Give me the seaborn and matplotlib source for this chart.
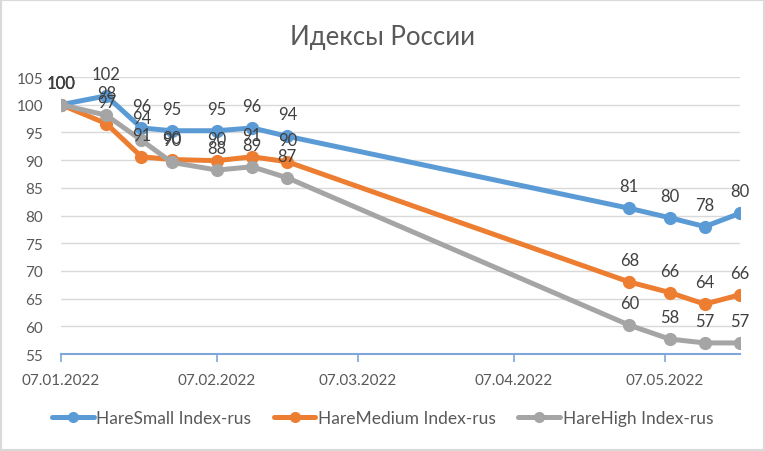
import matplotlib
matplotlib.use("Agg")
import matplotlib.pyplot as plt
import matplotlib.dates as mdates
from matplotlib.lines import Line2D
from matplotlib.patches import Rectangle
import seaborn as sns
import pandas as pd

title = "Идексы России"
dates = ["2022-01-07", "2022-01-16", "2022-01-23", "2022-01-29", "2022-02-07",
         "2022-02-14", "2022-02-21", "2022-04-30", "2022-05-08", "2022-05-15", "2022-05-22"]
series_names = ["HareSmall Index-rus", "HareMedium Index-rus", "HareHigh Index-rus"]
small = [100, 101.6, 95.8, 95.3, 95.3, 95.8, 94.3, 81.3, 79.6, 78.0, 80.4]
medium = [100, 96.6, 90.6, 90.1, 89.9, 90.6, 89.7, 68.0, 66.1, 64.0, 65.7]
high = [100, 98.1, 93.6, 89.6, 88.2, 88.8, 86.8, 60.2, 57.7, 57.0, 57.0]
tick_dates = ["2022-01-07", "2022-02-07", "2022-03-07", "2022-04-07", "2022-05-07"]
y_ticks = [55, 60, 65, 70, 75, 80, 85, 90, 95, 100, 105]
colors = ["#5B9BD5", "#ED7D31", "#A5A5A5"]

sns.set_theme(style="white")
plt.rcParams["font.family"] = ["Lato", "DejaVu Sans"]

frames = []
for name, vals in zip(series_names, [small, medium, high]):
    frames.append(pd.DataFrame({"date": pd.to_datetime(dates), "value": vals, "series": name}))
df = pd.concat(frames, ignore_index=True)

fig = plt.figure(figsize=(7.65, 4.52), dpi=100)
ax = fig.add_axes([61 / 765, 1 - 355 / 452, (740 - 61) / 765, (355 - 78) / 452])

for grid_y in y_ticks:
    ax.axhline(grid_y, color="#D9D9D9", lw=1, zorder=0)

sns.lineplot(data=df, x="date", y="value", hue="series", hue_order=series_names,
             palette=colors, marker="o", markersize=9.5, linewidth=3.6,
             markeredgewidth=0, legend=False, ax=ax, zorder=3)

for name, vals, c in zip(series_names, [small, medium, high], colors):
    for d, v in zip(pd.to_datetime(dates), vals):
        ax.annotate(f"{round(v)}", (d, v), xytext=(0, 10), textcoords="offset points",
                    ha="center", va="bottom", fontsize=12, color="#404040", zorder=10)

ax.set_xlim(pd.Timestamp(dates[0]), pd.Timestamp(dates[-1]))
ax.set_ylim(55, 105)
ax.set_yticks(y_ticks)
ax.set_xticks(pd.to_datetime(tick_dates))
ax.xaxis.set_major_formatter(mdates.DateFormatter("%d.%m.%Y"))
ax.set_xlabel("")
ax.set_ylabel("")
for s in ["top", "right", "left"]:
    ax.spines[s].set_visible(False)
ax.spines["bottom"].set_color("#7EA6D8")
ax.spines["bottom"].set_linewidth(1.5)
ax.spines["bottom"].set_zorder(1)
ax.tick_params(axis="x", colors="#7EA6D8", labelcolor="#595959", length=6, width=1.2,
               direction="out", bottom=True, pad=8, labelsize=11)
ax.tick_params(axis="y", length=0, labelcolor="#595959", pad=13, labelsize=11)

fig.text(0.5, 1 - 37 / 452, title, ha="center", va="center", fontsize=18.5, color="#595959")

handles = [Line2D([0], [0], color=c, lw=3.6, marker="o", markersize=8, markeredgewidth=0)
           for c in colors]
fig.legend(handles, series_names, loc="center", bbox_to_anchor=(0.5, 1 - 419 / 452),
           ncol=3, frameon=False, fontsize=12.5, handlelength=2.4, handletextpad=0.15,
           columnspacing=1.3, labelcolor="#595959")

fig.patches.append(Rectangle((0, 0), 1, 1, transform=fig.transFigure, fill=False,
                             edgecolor="#D9D9D9", linewidth=3, zorder=20))

fig.savefig("out.png", dpi=100, facecolor="white")
